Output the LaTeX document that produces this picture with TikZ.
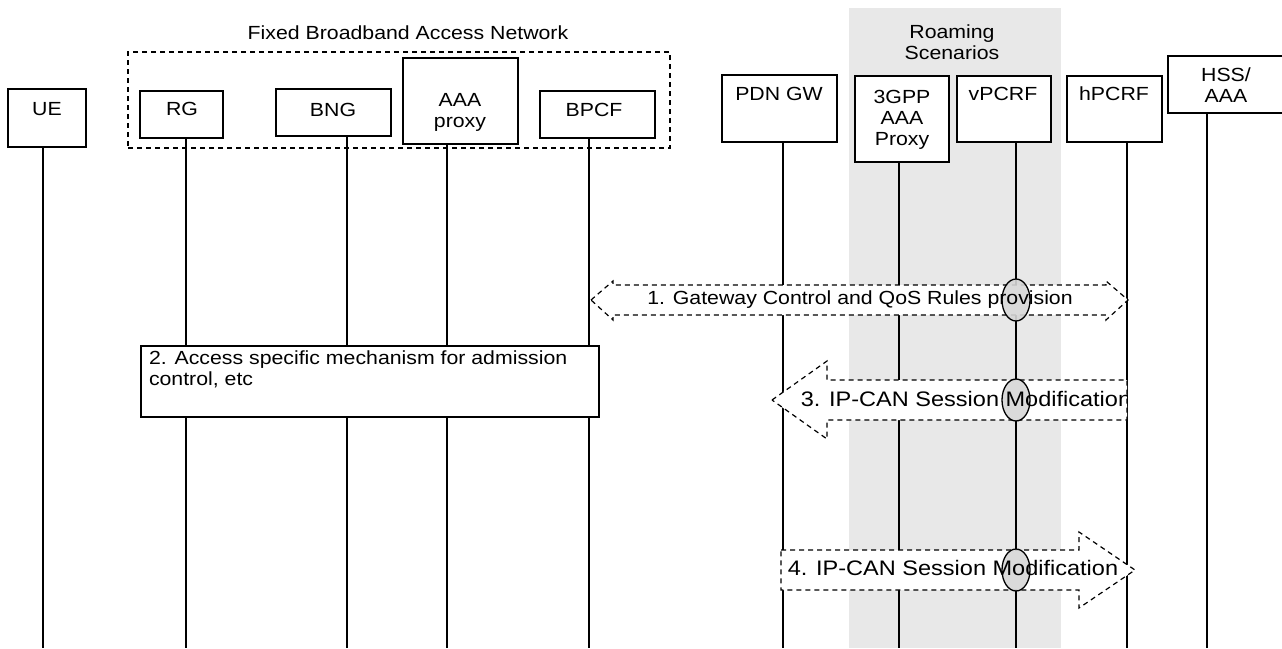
\documentclass[tikz,border=0pt]{standalone}
\usepackage{fontspec}
\setmainfont{Liberation Sans}[FakeStretch=1.12]
\usetikzlibrary{calc}
\definecolor{roamgrey}{RGB}{232,232,232}
\definecolor{ovalgrey}{RGB}{214,214,214}
\tikzset{
  entbox/.style={draw, line width=1.3pt, fill=white, inner sep=0pt, outer sep=0pt},
  grpbox/.style={draw, line width=1.2pt, dash pattern=on 5pt off 4pt, inner sep=0pt, outer sep=0pt},
  txt/.style={inner sep=0pt, outer sep=0pt, align=center, font=\fontsize{19}{21}\selectfont},
  bigtxt/.style={inner sep=0pt, outer sep=0pt, font=\fontsize{21}{23}\selectfont},
  life/.style={line width=1.3pt},
  blockarrow/.style={draw, line width=1.2pt, dash pattern=on 5pt off 4pt, fill=white, line join=miter},
  oval/.style={draw, line width=1.3pt, ellipse, fill=ovalgrey, fill opacity=0.9, inner sep=0pt, minimum width=28pt, minimum height=42pt}
}
\usetikzlibrary{shapes.geometric}
\begin{document}
\begin{tikzpicture}[x=1pt,y=-1pt]
\useasboundingbox (0,0) rectangle (1282,648);
% roaming region
\fill[roamgrey] (849,8) rectangle (1061,648);
\node[txt, anchor=north] (t-roam) at (952,24.7) {Roaming\\Scenarios};
% fixed broadband group
\node[grpbox, minimum width=542pt, minimum height=96pt] (fban) at (399,100) {};
\node[txt, anchor=base] (t-fban) at (408,39) {Fixed Broadband Access Network};

% lifeline end points
\coordinate (ue-b) at (43,648);
\coordinate (rg-b) at (186,648);
\coordinate (bng-b) at (347,648);
\coordinate (aaa-b) at (447,648);
\coordinate (bpcf-b) at (589,648);
\coordinate (pdn-b) at (783,648);
\coordinate (gpp-b) at (899,648);
\coordinate (vp-b) at (1016,648);
\coordinate (hp-b) at (1127,648);
\coordinate (hss-b) at (1207,648);

% entity boxes
\node[entbox, minimum width=78pt, minimum height=58pt] (ue) at (47,118) {};
\node[entbox, minimum width=83pt, minimum height=47pt] (rg) at (181.5,114.5) {};
\node[entbox, minimum width=115pt, minimum height=47pt] (bng) at (333.5,112.5) {};
\node[entbox, minimum width=115pt, minimum height=86pt] (aaa) at (460.5,101) {};
\node[entbox, minimum width=115pt, minimum height=47pt] (bpcf) at (597.5,114.5) {};
\node[entbox, minimum width=115pt, minimum height=67pt] (pdn) at (779.5,108.5) {};
\node[entbox, minimum width=94pt, minimum height=86pt] (gpp) at (902,119) {};
\node[entbox, minimum width=94pt, minimum height=66pt] (vp) at (1004,109) {};
\node[entbox, minimum width=95pt, minimum height=66pt] (hp) at (1114.5,109) {};
\node[entbox, minimum width=117pt, minimum height=57pt] (hss) at (1226.5,84.5) {};

% lifelines
\draw[life] (ue-b |- ue.south) -- (ue-b);
\draw[life] (rg-b |- rg.south) -- (rg-b);
\draw[life] (bng-b |- bng.south) -- (bng-b);
\draw[life] (aaa-b |- aaa.south) -- (aaa-b);
\draw[life] (bpcf-b |- bpcf.south) -- (bpcf-b);
\draw[life] (pdn-b |- pdn.south) -- (pdn-b);
\draw[life] (gpp-b |- gpp.south) -- (gpp-b);
\draw[life] (vp-b |- vp.south) -- (vp-b);
\draw[life] (hp-b |- hp.south) -- (hp-b);
\draw[life] (hss-b |- hss.south) -- (hss-b);

% entity labels
\node[txt, anchor=base] (ue-t) at (47,115) {UE};
\node[txt, anchor=base] (rg-t) at (182,115) {RG};
\node[txt, anchor=base] (bng-t) at (333,116) {BNG};
\node[txt, anchor=north] (aaa-t) at (460,93) {AAA\\proxy};
\node[txt, anchor=base] (bpcf-t) at (594,116) {BPCF};
\node[txt, anchor=base] (pdn-t) at (779,100) {PDN GW};
\node[txt, anchor=north] (gpp-t) at (902,90.4) {3GPP\\AAA\\Proxy};
\node[txt, anchor=base] (vp-t) at (1003,100) {vPCRF};
\node[txt, anchor=base] (hp-t) at (1114,100) {hPCRF};
\node[txt, anchor=north] (hss-t) at (1226,68) {HSS/\\AAA};

% step 2 box
\node[entbox, minimum width=458pt, minimum height=71pt] (s2) at (370,381.5) {};
\node[txt, align=left, anchor=north west] (s2-t) at (149,350.5) {2. Access specific mechanism for admission\\control, etc};

% step 1 double block arrow
\coordinate (a1l) at (591,300);
\coordinate (a1r) at (1128,300);
\draw[blockarrow] (a1l) -- ++(22,-19) -- ++(0,4) -- ($(a1r)+(-22,-15)$) -- ++(0,-4) -- (a1r)
  -- ++(-22,20) -- ++(0,-5) -- ($(a1l)+(22,15)$) -- ++(0,5) -- cycle;
% step 3 left block arrow
\coordinate (a3t) at (772,400);
\coordinate (a3e) at (1127,400);
\draw[blockarrow] (a3t) -- ++(55,-39) -- ++(0,19) -- ($(a3e)+(0,-20)$) -- ++(0,40)
  -- ($(a3t)+(55,20)$) -- ++(0,19) -- cycle;
% step 4 right block arrow
\coordinate (a4s) at (781,570);
\coordinate (a4t) at (1135,570);
\draw[blockarrow] ($(a4s)+(0,-20)$) -- ($(a4t)+(-56,-20)$) -- ++(0,-18) -- (a4t) -- ++(-56,38)
  -- ++(0,-18) -- ($(a4s)+(0,20)$) -- cycle;

% ovals on vPCRF lifeline
\node[oval] (o1) at (vp-b |- a1l) {};
\node[oval] (o3) at (vp-b |- a3t) {};
\node[oval] (o4) at (vp-b |- a4t) {};

% arrow texts
\node[txt, anchor=base] (a1-t) at (860,304.5) {1. Gateway Control and QoS Rules provision};
\begin{scope}
  \clip ($(a3t)+(0,-25)$) rectangle ($(a3e)+(0,25)$);
  \node[bigtxt, anchor=base] (a3-t) at (966,406) {3. IP-CAN Session Modification};
\end{scope}
\node[bigtxt, anchor=base] (a4-t) at (953,575) {4. IP-CAN Session Modification};
\end{tikzpicture}
\end{document}
